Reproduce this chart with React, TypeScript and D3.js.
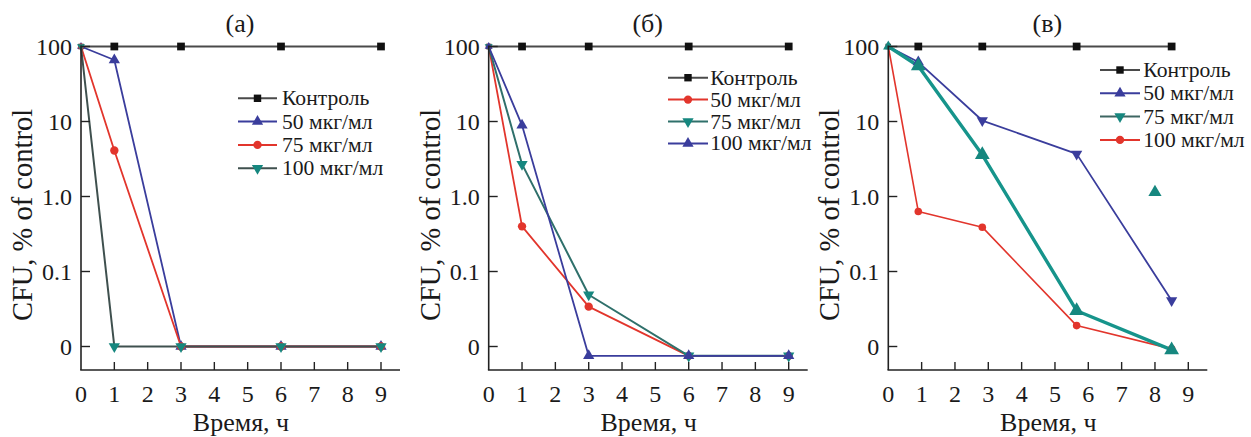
import React from 'react';
import * as d3 from 'd3';

// ---------- data ----------
const yTickValues = [100, 10, 1, 0.1, 0.01];
const yTickLabels = ['100', '10', '1.0', '0.1', '0'];
const xTickValues = [0, 1, 2, 3, 4, 5, 6, 7, 8, 9];
const panelTitles = ['(а)', '(б)', '(в)'];
const legendLabels = ['Контроль', '50 мкг/мл', '75 мкг/мл', '100 мкг/мл'];
const legendLabelsC = ['Контроль', '50 мкг/мл', '75 мкг/мл', '100 мкг/мл'];

const timesAB = [0, 1, 3, 6, 9];
const timesC = [0, 0.9, 2.82, 5.65, 8.5];

const controlA = [100, 100, 100, 100, 100];
const dose50A = [100, 66, 0.01, 0.01, 0.01];
const dose75A = [100, 4.1, 0.01, 0.01, 0.01];
const dose100A = [100, 0.01, 0.01, 0.01, 0.01];

const controlB = [100, 100, 100, 100, 100];
const dose50B = [100, 0.4, 0.034, 0.0075, 0.0075];
const dose75B = [100, 2.7, 0.049, 0.0075, 0.0075];
const dose100B = [100, 8.9, 0.0075, 0.0075, 0.0075];

const controlC = [100, 100, 100, 100, 100];
const dose50C = [100, 62, 10.3, 3.7, 0.041];
const dose75C = [100, 55, 3.6, 0.03, 0.009];
const dose100C = [100, 0.63, 0.39, 0.019, 0.0093];
const stray75C = { t: 8.0, v: 1.14 };

// ---------- styles ----------
const FONT = '"Liberation Serif", "Times New Roman", Times, serif';
const C_CTRL_LINE = '#4a4a4a';
const C_CTRL_MARK = '#111111';
const C_BLUE = '#3a3d9c';
const C_RED = '#e2352c';
const C_TEAL = '#16877f';

type Sym = 'square' | 'up' | 'down' | 'circle';

interface Series {
  t: number[];
  v: number[];
  line: string;
  mark: string;
  sym: Sym | Sym[];
  size: number;
  width: number;
}

const symbolType = (s: Sym) =>
  s === 'square' ? d3.symbolSquare : s === 'circle' ? d3.symbolCircle : d3.symbolTriangle;

function Marker({ cx, cy, sym, size, fill }: { cx: number; cy: number; sym: Sym; size: number; fill: string }) {
  const d = d3.symbol().type(symbolType(sym)).size(size)() || '';
  const rot = sym === 'down' ? ' rotate(180)' : '';
  return <path d={d} transform={`translate(${cx},${cy})${rot}`} fill={fill} />;
}

function T({ x, y, size, anchor = 'start', children, sx = 1 }: any) {
  return (
    <text
      transform={`translate(${x},${y}) scale(${sx},1)`}
      fontSize={size}
      textAnchor={anchor}
      fontFamily={FONT}
      fill="#1a1a1a"
    >
      {children}
    </text>
  );
}

interface PanelCfg {
  left: number;
  title: string;
  series: Series[];
  legendSyms: Sym[];
  legendLines: string[];
  legendMarks: string[];
  labels: string[];
  legend: { x0: number; x1: number; tx: number; y0: number; dy: number };
  extra?: { t: number; v: number; color: string; size: number }[];
}

const ctrl = (t: number[], v: number[]): Series => ({
  t, v, line: C_CTRL_LINE, mark: C_CTRL_MARK, sym: 'square', size: 60, width: 2,
});

const panels: PanelCfg[] = [
  {
    left: 81,
    title: panelTitles[0],
    series: [
      ctrl(timesAB, controlA),
      { t: timesAB, v: dose50A, line: C_BLUE, mark: C_BLUE, sym: 'up', size: 55, width: 1.8 },
      { t: timesAB, v: dose75A, line: C_RED, mark: C_RED, sym: 'circle', size: 55, width: 1.8 },
      { t: timesAB, v: dose100A, line: '#3f504e', mark: C_TEAL, sym: 'down', size: 55, width: 2 },
    ],
    legendSyms: ['square', 'up', 'circle', 'down'],
    legendLines: [C_CTRL_LINE, C_BLUE, C_RED, '#3f504e'],
    legendMarks: [C_CTRL_MARK, C_BLUE, C_RED, C_TEAL],
    labels: legendLabels,
    legend: { x0: 157, x1: 196, tx: 201, y0: 98.3, dy: 23.3 },
  },
  {
    left: 488.7,
    title: panelTitles[1],
    series: [
      ctrl(timesAB, controlB),
      { t: timesAB, v: dose50B, line: C_RED, mark: C_RED, sym: 'circle', size: 55, width: 1.8 },
      { t: timesAB, v: dose75B, line: '#2f706b', mark: C_TEAL, sym: 'down', size: 55, width: 2 },
      { t: timesAB, v: dose100B, line: C_BLUE, mark: C_BLUE, sym: 'up', size: 55, width: 1.8 },
    ],
    legendSyms: ['square', 'circle', 'down', 'up'],
    legendLines: [C_CTRL_LINE, C_RED, '#2f706b', C_BLUE],
    legendMarks: [C_CTRL_MARK, C_RED, C_TEAL, C_BLUE],
    labels: legendLabels,
    legend: { x0: 179.3, x1: 219.3, tx: 221.5, y0: 77.7, dy: 21.9 },
  },
  {
    left: 888.3,
    title: panelTitles[2],
    series: [
      ctrl(timesC, controlC),
      { t: timesC, v: dose50C, line: C_BLUE, mark: C_BLUE, sym: ['up', 'up', 'down', 'down', 'down'], size: 55, width: 1.8 },
      { t: timesC, v: dose100C, line: C_RED, mark: C_RED, sym: 'circle', size: 45, width: 1.6 },
      { t: timesC, v: dose75C, line: '#16948b', mark: C_TEAL, sym: 'up', size: 95, width: 3.4 },
    ],
    legendSyms: ['square', 'up', 'down', 'circle'],
    legendLines: [C_CTRL_LINE, C_BLUE, '#3e6662', C_RED],
    legendMarks: [C_CTRL_MARK, C_BLUE, C_TEAL, C_RED],
    labels: legendLabelsC,
    legend: { x0: 211.7, x1: 251.7, tx: 255, y0: 70, dy: 23.3 },
    extra: [{ t: stray75C.t, v: stray75C.v, color: C_TEAL, size: 75 }],
  },
];

function Panel({ p }: { p: PanelCfg }) {
  const x = d3.scaleLinear().domain([0, 9]).range([p.left, p.left + 300]);
  const y = d3.scaleLog().domain([0.01, 100]).range([346.5, 46.5]);
  const axisY = 370;
  const xEnd = p.left + 319;
  const line = d3
    .line<[number, number]>()
    .x((d) => x(d[0]))
    .y((d) => y(d[1]));

  return (
    <g>
      {p.series.map((s, i) => (
        <path
          key={'l' + i}
          d={line(s.t.map((t, j) => [t, s.v[j]] as [number, number])) || ''}
          fill="none"
          stroke={s.line}
          strokeWidth={s.width}
          strokeLinejoin="round"
        />
      ))}
      {p.series.map((s, i) =>
        s.t.map((t, j) => (
          <Marker
            key={'m' + i + '-' + j}
            cx={x(t)}
            cy={y(s.v[j])}
            sym={Array.isArray(s.sym) ? s.sym[j] : s.sym}
            size={j === 0 ? s.size * 0.5 : s.size}
            fill={s.mark}
          />
        ))
      )}
      {p.extra &&
        p.extra.map((e, i) => (
          <Marker key={'e' + i} cx={x(e.t)} cy={y(e.v)} sym="up" size={e.size} fill={e.color} />
        ))}

      <line x1={p.left} x2={p.left} y1={y(100) - 1} y2={axisY} stroke="#222" strokeWidth={1.6} />
      <line x1={p.left - 0.8} x2={xEnd} y1={axisY} y2={axisY} stroke="#222" strokeWidth={1.6} />
      {yTickValues.map((v, i) => (
        <g key={'yt' + i}>
          <line x1={p.left} x2={p.left + 9} y1={y(v)} y2={y(v)} stroke="#222" strokeWidth={1.4} />
          <T x={p.left - 9} y={y(v) + 8.3} size={24} anchor="end">
            {yTickLabels[i]}
          </T>
        </g>
      ))}
      {xTickValues.map((v) => (
        <g key={'xt' + v}>
          {v > 0 && <line x1={x(v)} x2={x(v)} y1={axisY} y2={axisY - 8} stroke="#222" strokeWidth={1.4} />}
          <T x={x(v)} y={401.5} size={24} anchor="middle">
            {String(v)}
          </T>
        </g>
      ))}

      <T x={p.left + 159} y={32} size={26} anchor="middle">
        {p.title}
      </T>
      <T x={p.left + 160} y={431} size={26} anchor="middle">
        Время, ч
      </T>
      <text
        transform={`translate(${p.left - 49},215) rotate(-90)`}
        fontSize={28.5}
        textAnchor="middle"
        fontFamily={FONT}
        fill="#1a1a1a"
      >
        CFU, % of control
      </text>

      {p.labels.map((lab, r) => {
        const ly = p.legend.y0 + r * p.legend.dy;
        const x0 = p.left + p.legend.x0;
        const x1 = p.left + p.legend.x1;
        return (
          <g key={'lg' + r}>
            <line x1={x0} x2={x1} y1={ly} y2={ly} stroke={p.legendLines[r]} strokeWidth={2} />
            <Marker cx={(x0 + x1) / 2} cy={ly} sym={p.legendSyms[r]} size={55} fill={p.legendMarks[r]} />
            <T x={p.left + p.legend.tx} y={ly + 7} size={21} sx={1.03}>
              {lab}
            </T>
          </g>
        );
      })}
    </g>
  );
}

export default function App() {
  return (
    <svg width={1251} height={437} viewBox="0 0 1251 437" style={{ position: 'absolute', left: 0, top: 0, background: '#fff' }}>
      <rect x={0} y={0} width={1251} height={437} fill="#ffffff" />
      {panels.map((p, i) => (
        <Panel key={i} p={p} />
      ))}
    </svg>
  );
}
